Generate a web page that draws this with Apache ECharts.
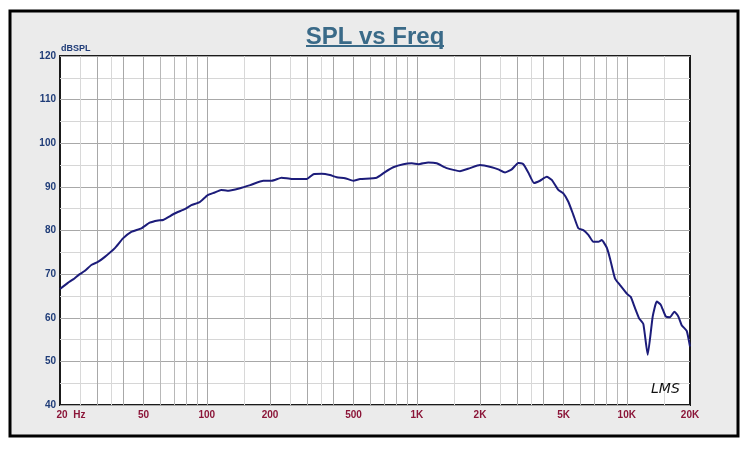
<!DOCTYPE html>
<html>
<head>
<meta charset="utf-8">
<script src="https://cdn.jsdelivr.net/npm/echarts@6/dist/echarts.min.js"></script>
<style>
html,body{margin:0;padding:0;background:#fff;}
#chart{width:750px;height:458px;}
</style>
</head>
<body>
<div id="chart"></div>
<script>
// ---- data ----
const freqHz = [20, 21.8, 23.1, 24.8, 26.2, 28.2, 30.3, 32.6, 36.4, 39.9, 43.7, 48.8, 53.5, 58.6, 61.9, 70.3, 78.5, 84.4, 92.5, 101, 109, 117, 125, 144, 161, 186, 204, 227, 254, 299, 322, 353, 386, 416, 455, 499, 537, 644, 706, 773, 863, 946, 1017, 1134, 1244, 1388, 1606, 1793, 2000, 2274, 2444, 2630, 2832, 3044, 3216, 3396, 3616, 3862, 4156, 4391, 4720, 4986, 5268, 5564, 5879, 6211, 6561, 6931, 7321, 7596, 8025, 8318, 8788, 9283, 10058, 10440, 10944, 11435, 11986, 12580, 13290, 13885, 14508, 15325, 16062, 16840, 17597, 18262, 19290, 20000];
const splDb = [66.6, 68.0, 68.8, 70.0, 70.7, 72.1, 72.8, 73.9, 75.9, 78.2, 79.7, 80.5, 81.8, 82.3, 82.4, 83.9, 84.9, 85.8, 86.5, 88.1, 88.7, 89.3, 89.1, 89.7, 90.4, 91.4, 91.4, 92.1, 91.8, 91.8, 92.9, 93.0, 92.7, 92.2, 92.0, 91.4, 91.8, 92.1, 93.4, 94.5, 95.2, 95.4, 95.2, 95.6, 95.4, 94.3, 93.6, 94.3, 95.0, 94.5, 94.0, 93.3, 94.0, 95.5, 95.2, 93.3, 90.9, 91.4, 92.3, 91.6, 89.3, 88.5, 86.6, 83.6, 80.5, 80.1, 79.0, 77.4, 77.4, 77.8, 76.1, 73.6, 69.0, 67.5, 65.4, 64.8, 62.2, 59.9, 58.6, 51.5, 60.3, 63.7, 63.0, 60.3, 60.1, 61.4, 60.3, 58.3, 57.0, 53.4];

const xLabelValues = [20, 50, 100, 200, 500, 1000, 2000, 5000, 10000, 20000];
const xLabelTexts  = ['20  Hz', '50', '100', '200', '500', '1K', '2K', '5K', '10K', '20K'];
const yMin = 40, yMax = 120, yStep = 10;

// vertical grid lines (Hz)
const gridDarkHz  = [30, 40, 50, 100, 200, 300, 400, 500, 1000, 2000, 3000, 4000, 5000, 10000];
const gridMidHz   = [60, 70, 80, 90, 600, 700, 800, 900, 6000, 7000, 8000, 9000];
const gridLightHz = [25, 35, 150, 250, 350, 1500, 2500, 3500, 15000];

// ---- chart ----
const chart = echarts.init(document.getElementById('chart'), null, {renderer: 'canvas'});
const narrow = "'Liberation Sans Narrow', 'Liberation Sans', Arial, sans-serif";

function vLines(vals, color) {
  return vals.map(v => ({xAxis: v, lineStyle: {color: color, width: 1, type: 'solid'}}));
}

const option = {
  animation: false,
  backgroundColor: '#ffffff',
  title: {
    text: 'SPL vs Freq',
    left: 'center',
    top: 20,
    textStyle: {fontSize: 24, fontWeight: 'bold', color: '#3a6a88', fontFamily: "'Liberation Sans', Arial, sans-serif"}
  },
  graphic: [
    {type: 'rect', z: -10, shape: {x: 10, y: 11, width: 728, height: 425},
     style: {fill: '#ebebeb', stroke: '#000', lineWidth: 3}},
    {type: 'rect', z: 100, shape: {x: 306, y: 45, width: 138, height: 2}, style: {fill: '#3a6a88'}},
    {type: 'text', z: 100, left: 61, top: 44,
     style: {text: 'dBSPL', fontSize: 9, fontWeight: 'bold', fill: '#1f3c78', fontFamily: narrow}},
    {type: 'text', z: 100, left: 651, top: 382,
     style: {text: 'LMS', fontSize: 14, fontStyle: 'italic', fill: '#111', fontFamily: "'DejaVu Sans', sans-serif"}}
  ],
  grid: {
    left: 60, top: 56, width: 630, height: 349,
    show: true, backgroundColor: '#ffffff', borderColor: '#1a1a1a', borderWidth: 2
  },
  xAxis: {
    type: 'log', logBase: 10, min: 20, max: 20000,
    axisLine: {show: false}, axisTick: {show: false}, splitLine: {show: false},
    axisLabel: {
      customValues: xLabelValues,
      margin: 5,
      color: '#8b1538', fontSize: 10, fontWeight: 'bold', fontFamily: narrow,
      formatter: function (v) {
        const i = xLabelValues.findIndex(x => Math.abs(x - v) / x < 1e-6);
        if (i === 0) return '{first|' + xLabelTexts[0] + '}';
        return i >= 0 ? xLabelTexts[i] : '';
      },
      rich: {first: {color: '#8b1538', fontSize: 10, fontWeight: 'bold', fontFamily: narrow, padding: [0, 0, 0, 22]}}
    }
  },
  yAxis: {
    type: 'value', min: yMin, max: yMax, interval: yStep,
    axisLine: {show: false}, axisTick: {show: false},
    minorTick: {show: false, splitNumber: 2},
    splitLine: {show: true, lineStyle: {color: '#a8a8a8', width: 1}},
    minorSplitLine: {show: true, lineStyle: {color: '#d6d6d6', width: 1}},
    axisLabel: {margin: 4, color: '#1f3c78', fontSize: 10, fontWeight: 'bold', fontFamily: narrow}
  },
  series: [
    {
      type: 'line', data: [], z: 1, silent: true,
      markLine: {
        silent: true, symbol: 'none', label: {show: false}, animation: false,
        data: [].concat(vLines(gridLightHz, '#d8d8d8'), vLines(gridMidHz, '#b8b8b8'), vLines(gridDarkHz, '#a8a8a8'))
      }
    },
    {
      type: 'line', z: 5,
      data: freqHz.map((f, i) => [f, splDb[i]]),
      showSymbol: false, smooth: 0.15,
      lineStyle: {color: '#1c1c7a', width: 2}
    }
  ]
};
chart.setOption(option);
</script>
</body>
</html>
